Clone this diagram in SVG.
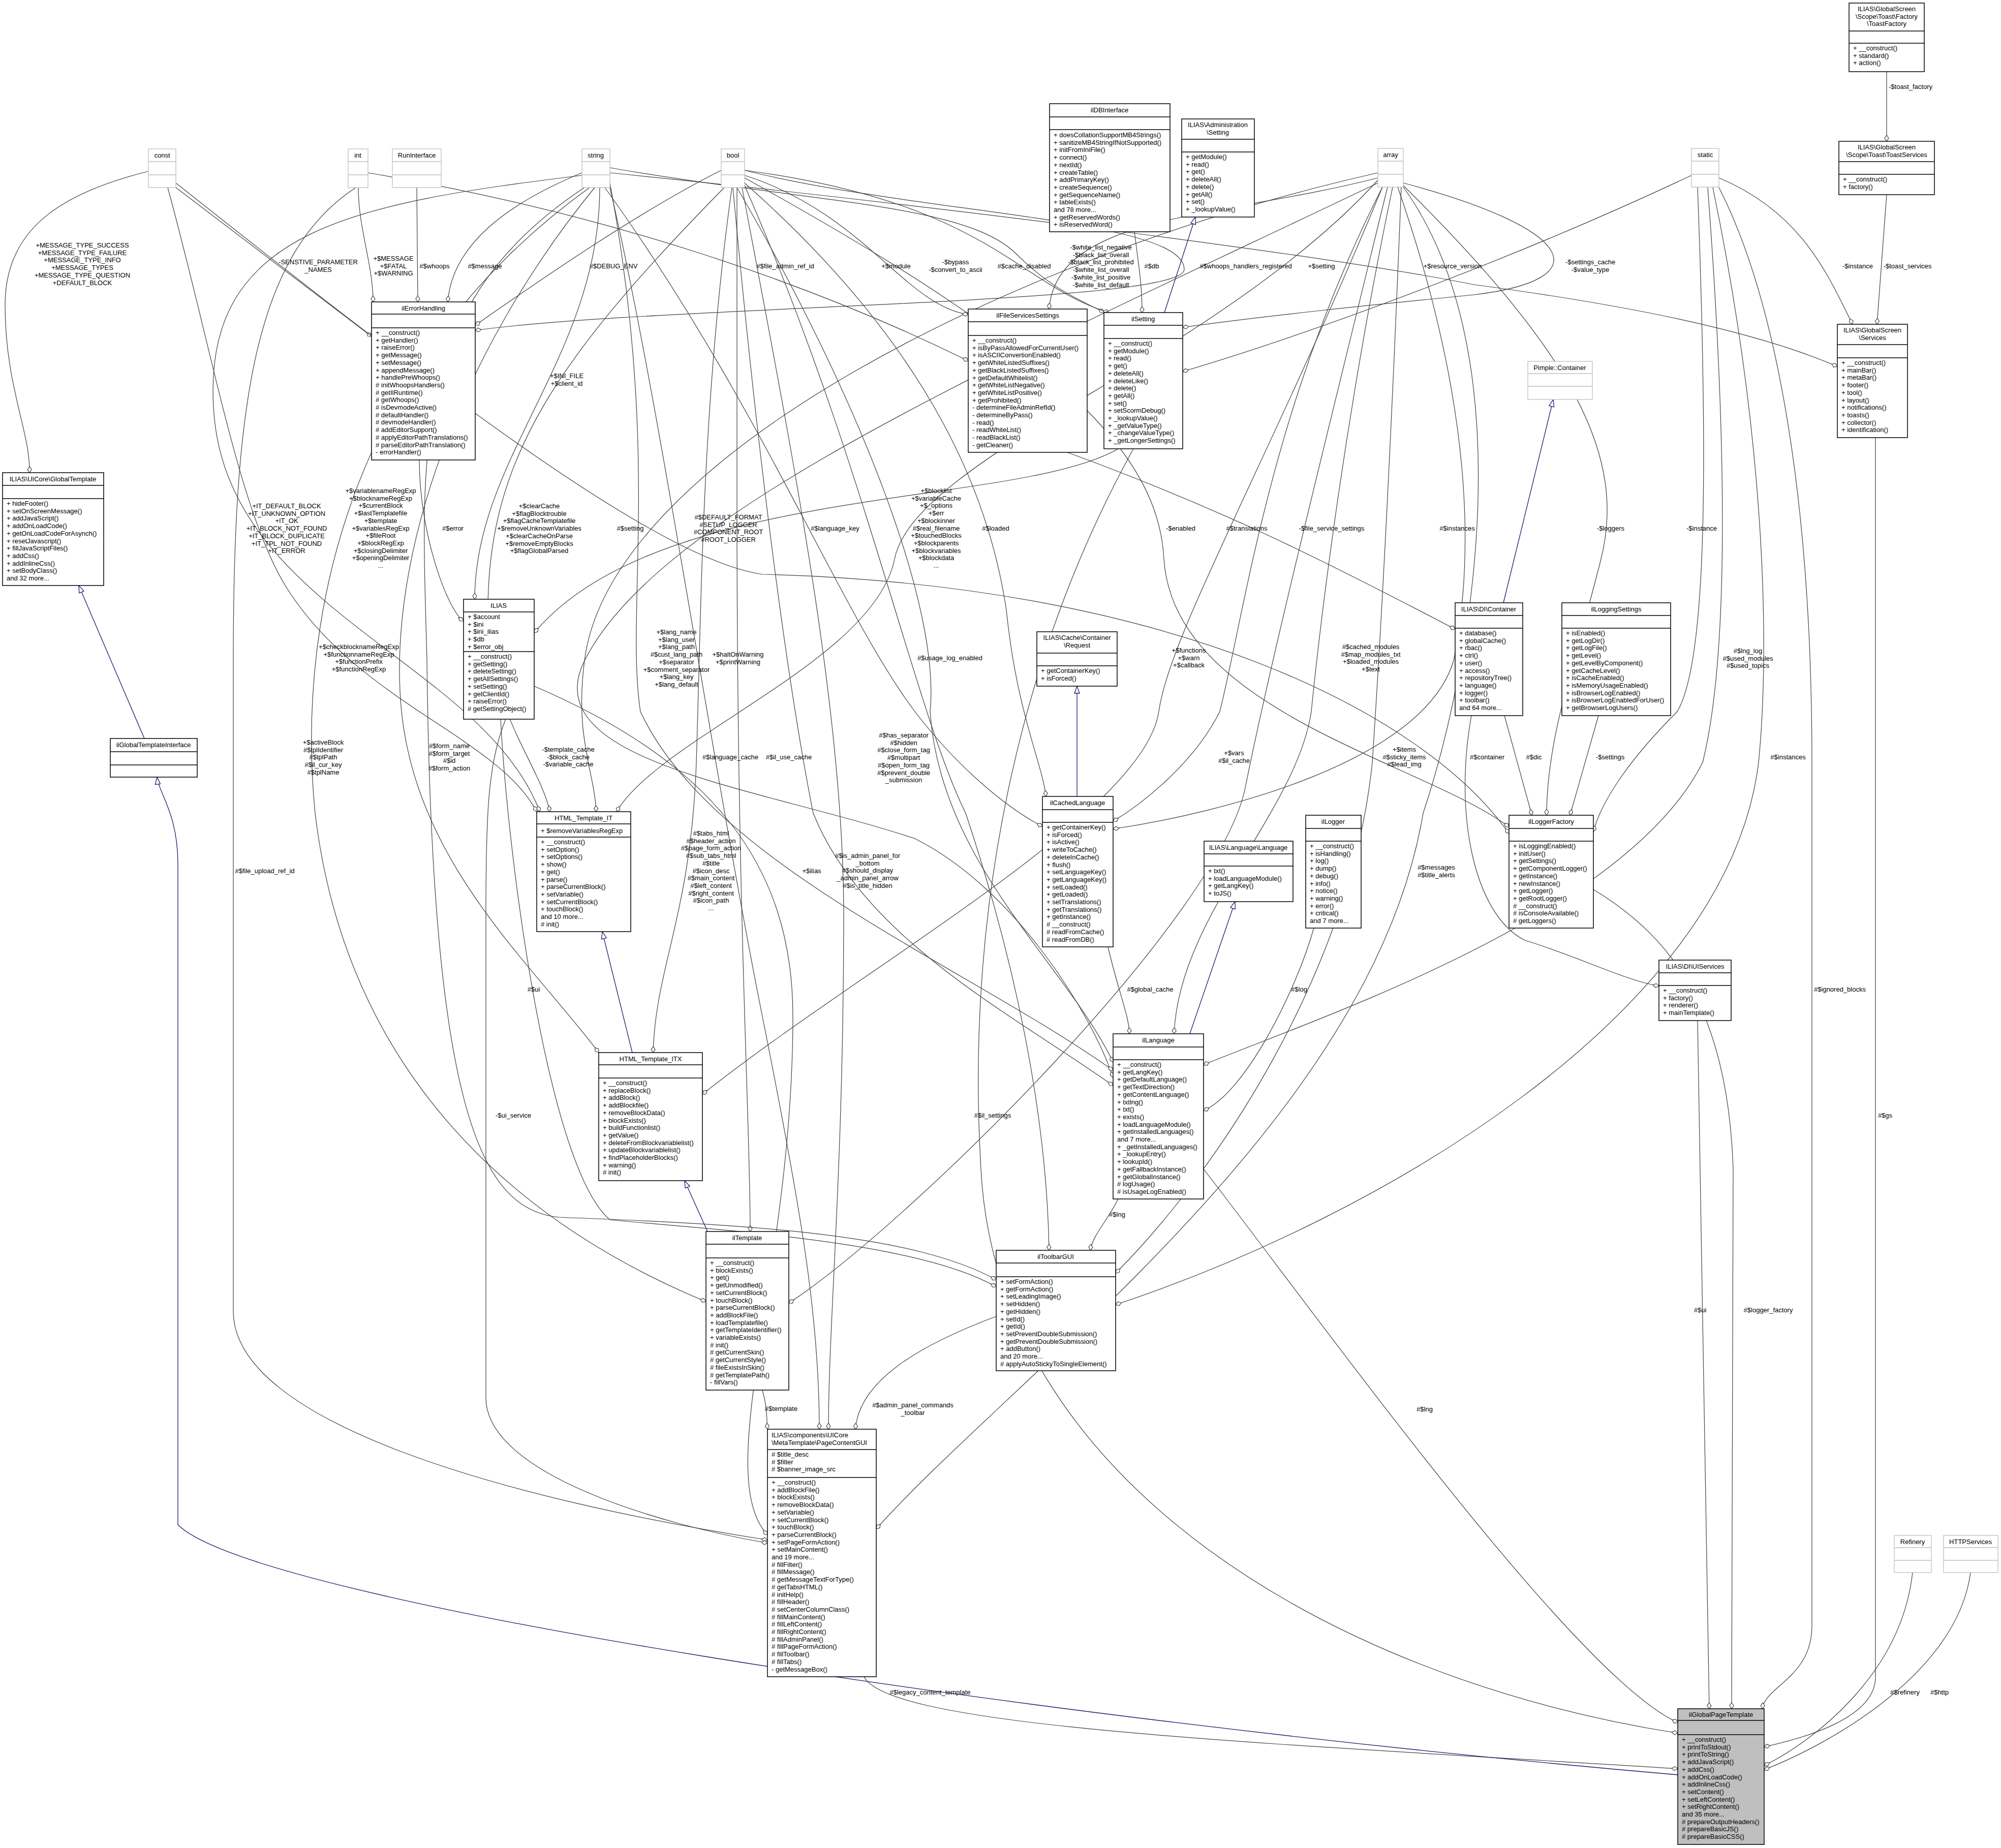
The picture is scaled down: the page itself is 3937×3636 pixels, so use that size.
<svg xmlns="http://www.w3.org/2000/svg" width="3937" height="3636" viewBox="0 0 3937 3636">
<style>
text{font-family:"Liberation Sans",Arial,sans-serif;font-size:13px;fill:#000}
.h{text-anchor:middle}
.l{text-anchor:middle}
.n rect{fill:#fff;stroke:#000;stroke-width:1.5}
.n line{stroke:#000;stroke-width:1.5}
.t rect{fill:#fff;stroke:#bfbfbf;stroke-width:1.3}
.t line{stroke:#bfbfbf;stroke-width:1.3}
.e path{fill:none;stroke:#404040;stroke-width:1.2;marker-end:url(#dia)}
.g path{fill:none;stroke:#191970;stroke-width:1.3;marker-end:url(#tri)}
</style>
<defs>
<marker id="dia" markerUnits="userSpaceOnUse" markerWidth="14" markerHeight="10" refX="13" refY="5" orient="auto"><path d="M1,5 L7,1 L13,5 L7,9 z" fill="#fff" stroke="#404040" stroke-width="1.2"/></marker>
<marker id="tri" markerUnits="userSpaceOnUse" markerWidth="16" markerHeight="12" refX="15" refY="6" orient="auto"><path d="M1,1 L15,6 L1,11 z" fill="#fff" stroke="#191970" stroke-width="1.3"/></marker>
</defs>
<rect width="3937" height="3636" fill="#fff"/>

<g id="connectors">
<g class="e">
<path d="M292,337 C120,380 10,450 10,600 C10,760 60,850 58,930"/>
<path d="M346,369 L731,662"/>
<path d="M705,369 C705,450 734,520 734,594"/>
<path d="M820,369 L822,594"/>
<path d="M1145,340 C1000,400 890,480 881,594"/>
<path d="M1419,335 C1250,420 1050,560 935,640"/>
<path d="M1465,335 C1800,420 2330,430 2330,530 C2330,600 1300,600 935,650"/>
<path d="M1180,369 C1180,700 934,900 934,1179"/>
<path d="M825,905 C825,1050 880,1200 912,1222"/>
<path d="M2200,883 C2000,1000 1300,950 1051,1245"/>
<path d="M330,369 C420,700 470,1000 560,1150 C700,1380 980,1450 1056,1597"/>
<path d="M1145,345 C700,400 400,450 420,800 C440,1200 950,1300 1062,1597"/>
<path d="M1425,369 C1100,700 960,900 960,1200 C960,1400 1060,1500 1082,1597"/>
<path d="M2711,340 C2000,500 1200,900 1150,1300 C1130,1450 1170,1520 1173,1597"/>
<path d="M2715,350 C2400,700 1800,900 1760,1100 C1720,1300 1300,1450 1213,1597"/>
<path d="M1170,369 C900,700 760,1100 790,1400 C820,1700 1050,1900 1178,2071"/>
<path d="M1440,369 C1380,800 1380,1200 1370,1500 C1360,1800 1290,1900 1285,2071"/>
<path d="M2720,368 C2500,900 2300,1250 2280,1400 C2250,1600 1700,1900 1382,2153"/>
<path d="M1160,369 C700,700 580,1200 620,1600 C680,2100 1000,2400 1389,2561"/>
<path d="M2730,368 C2600,900 2500,1300 2450,1550 C2400,1800 1800,2400 1552,2564"/>
<path d="M1450,369 L1450,1000 C1450,1800 1476,2200 1476,2423"/>
<path d="M700,369 C500,500 459,800 459,1300 L459,2580 C459,2800 1000,2950 1510,3030"/>
<path d="M995,1415 C960,1500 956,1600 956,1800 L956,2750 C956,2900 1300,3000 1510,3036"/>
<path d="M985,1415 C1000,1700 1080,2300 1200,2400 C1400,2420 1800,2440 1960,2532"/>
<path d="M1150,369 C800,600 830,900 840,1300 C850,2200 950,2380 1100,2395 C1500,2410 1800,2430 1960,2518"/>
<path d="M724,340 C1200,420 1600,560 1905,710"/>
<path d="M1200,330 C1600,400 1900,400 2000,500 C2080,580 2150,600 2172,615"/>
<path d="M1465,345 C1700,420 1780,600 1905,619"/>
<path d="M1465,335 C1950,400 2000,560 2182,615"/>
<path d="M2711,350 C2400,430 2080,420 2064,608"/>
<path d="M2232,456 C2240,520 2247,560 2247,615"/>
<path d="M2761,360 C3100,450 3150,550 2900,580 C2700,600 2500,620 2327,644"/>
<path d="M3328,345 C3000,500 2600,650 2327,731"/>
<path d="M1200,340 C1800,400 2600,500 2900,560 C3200,600 3450,650 3615,721"/>
<path d="M3382,350 C3550,420 3600,550 3645,638"/>
<path d="M3712,383 L3693,638"/>
<path d="M3712,141 L3712,278"/>
<path d="M346,360 C900,800 1300,1100 1500,1130 C2300,1150 2800,1400 2969,1640"/>
<path d="M1190,369 C1500,800 1650,1200 1800,1400 C1900,1530 2000,1600 2051,1626"/>
<path d="M1465,360 C1850,700 1950,1000 1980,1200 C2000,1400 2050,1500 2058,1567"/>
<path d="M1465,350 C2100,700 2280,900 2290,1100 C2310,1400 2800,1500 2969,1627"/>
<path d="M2720,368 C2500,800 2450,1200 2400,1400 C2350,1500 2250,1580 2190,1616"/>
<path d="M2750,368 C2900,800 2900,1100 2860,1300 C2800,1500 2400,1600 2190,1631"/>
<path d="M2100,890 C2400,1000 2600,1100 2863,1238"/>
<path d="M2761,365 C3100,700 3200,900 3150,1100 C3100,1300 3043,1450 3043,1604"/>
<path d="M3340,369 C3360,900 3360,1300 3300,1400 C3200,1500 3150,1580 3135,1636"/>
<path d="M1450,369 C1700,800 1850,1200 1830,1400 C1850,1700 2100,1900 2190,2090"/>
<path d="M1465,365 C1700,900 1800,1400 1900,1600 C2000,1900 2060,2200 2064,2460"/>
<path d="M2711,360 C2000,700 1300,1000 1150,1300 C1050,1500 1500,1550 1800,1650 C2000,1750 2150,2000 2190,2120"/>
<path d="M1442,369 C1500,1000 1560,1400 1600,1600 C1700,1850 2000,2000 2190,2136"/>
<path d="M1200,360 C1300,900 1230,1200 1260,1400 C1400,1700 1900,1900 2190,2106"/>
<path d="M2740,368 C2650,800 2600,1200 2580,1400 C2550,1600 2320,1800 2310,2034"/>
<path d="M2757,368 C2740,800 2720,1200 2700,1500 C2660,1900 2400,2300 2195,2505"/>
<path d="M2761,368 C3000,700 2900,1300 2800,1600 C2700,2200 2000,2700 1724,3008"/>
<path d="M2895,1408 C2860,1600 2900,1800 3000,1850 C3100,1880 3200,1930 3264,1940"/>
<path d="M2960,1408 L3014,1604"/>
<path d="M3145,1408 L3089,1604"/>
<path d="M3360,369 C3400,900 3400,1300 3350,1500 C3200,1800 2600,2000 2368,2095"/>
<path d="M3370,369 C3480,900 3480,1300 3460,1500 C3400,2000 2700,2400 2195,2567"/>
<path d="M3382,369 C3500,600 3565,1000 3565,1500 L3565,3200 C3565,3300 3470,3320 3468,3362"/>
<path d="M3690,861 L3690,3300 C3690,3380 3550,3420 3471,3437"/>
<path d="M3340,2008 L3363,3362"/>
<path d="M3135,1750 C3300,1850 3400,2000 3410,2300 L3407,3362"/>
<path d="M2585,1826 C2550,1950 2450,2150 2368,2185"/>
<path d="M2180,1863 C2200,1950 2222,2000 2222,2034"/>
<path d="M2200,2359 C2180,2400 2150,2430 2145,2460"/>
<path d="M2368,2300 C2600,2600 3100,3300 3301,3389"/>
<path d="M2230,883 C2000,1300 1900,1800 1930,2300 C1960,2900 2600,3300 3301,3410"/>
<path d="M1500,2735 C1510,2770 1508,2790 1510,2812"/>
<path d="M1960,2590 C1800,2650 1690,2720 1683,2812"/>
<path d="M1200,369 C1300,800 1400,1500 1500,2000 C1580,2400 1612,2600 1612,2812"/>
<path d="M1460,369 C1560,900 1660,1400 1660,1800 C1660,2300 1630,2600 1630,2812"/>
<path d="M1051,1350 C1400,1500 1560,1700 1560,2000 C1560,2500 1400,2900 1510,3020"/>
<path d="M1700,3299 C1750,3400 2500,3430 3301,3480"/>
<path d="M3763,3094 C3740,3300 3560,3430 3471,3474"/>
<path d="M3877,3094 C3850,3300 3580,3440 3471,3482"/>
</g>
<g class="g">
<path d="M284,1453 L155,1152"/>
<path d="M3301,3492 C2000,3380 500,3150 350,3000 L350,1700 C350,1600 312,1560 309,1529"/>
<path d="M2291,615 L2352,427"/>
<path d="M2958,1186 L3056,786"/>
<path d="M2119,1567 L2119,1350"/>
<path d="M2341,2034 L2430,1774"/>
<path d="M1244,2071 L1185,1833"/>
<path d="M1392,2423 L1347,2323"/>
</g>
<g id="labels">
<text class="l" x="162" y="487">+MESSAGE_TYPE_SUCCESS<tspan x="162" dy="14.7">+MESSAGE_TYPE_FAILURE</tspan><tspan x="162" dy="14.7">+MESSAGE_TYPE_INFO</tspan><tspan x="162" dy="14.7">+MESSAGE_TYPES</tspan><tspan x="162" dy="14.7">+MESSAGE_TYPE_QUESTION</tspan><tspan x="162" dy="14.7">+DEFAULT_BLOCK</tspan></text>
<text class="l" x="626" y="520">-SENSTIVE_PARAMETER<tspan x="626" dy="14.7">_NAMES</tspan></text>
<text class="l" x="774" y="513">+$MESSAGE<tspan x="774" dy="14.7">+$FATAL</tspan><tspan x="774" dy="14.7">+$WARNING</tspan></text>
<text class="l" x="855" y="528">#$whoops</text>
<text class="l" x="954" y="528">#$message</text>
<text class="l" x="1207" y="528">#$DEBUG_ENV</text>
<text class="l" x="2451" y="528">#$whoops_handlers_registered</text>
<text class="l" x="1115" y="744">+$INI_FILE<tspan x="1115" dy="14.7">+$client_id</tspan></text>
<text class="l" x="891" y="1044">#$error</text>
<text class="l" x="1240" y="1044">#$setting</text>
<text class="l" x="564" y="1000">+IT_DEFAULT_BLOCK<tspan x="564" dy="14.7">+IT_UNKNOWN_OPTION</tspan><tspan x="564" dy="14.7">+IT_OK</tspan><tspan x="564" dy="14.7">+IT_BLOCK_NOT_FOUND</tspan><tspan x="564" dy="14.7">+IT_BLOCK_DUPLICATE</tspan><tspan x="564" dy="14.7">+IT_TPL_NOT_FOUND</tspan><tspan x="564" dy="14.7">+IT_ERROR</tspan></text>
<text class="l" x="749" y="970">+$variablenameRegExp<tspan x="749" dy="14.7">+$blocknameRegExp</tspan><tspan x="749" dy="14.7">+$currentBlock</tspan><tspan x="749" dy="14.7">+$lastTemplatefile</tspan><tspan x="749" dy="14.7">+$template</tspan><tspan x="749" dy="14.7">+$variablesRegExp</tspan><tspan x="749" dy="14.7">+$fileRoot</tspan><tspan x="749" dy="14.7">+$blockRegExp</tspan><tspan x="749" dy="14.7">+$closingDelimiter</tspan><tspan x="749" dy="14.7">+$openingDelimiter</tspan><tspan x="749" dy="14.7">...</tspan></text>
<text class="l" x="1061" y="1000">+$clearCache<tspan x="1061" dy="14.7">+$flagBlocktrouble</tspan><tspan x="1061" dy="14.7">+$flagCacheTemplatefile</tspan><tspan x="1061" dy="14.7">+$removeUnknownVariables</tspan><tspan x="1061" dy="14.7">+$clearCacheOnParse</tspan><tspan x="1061" dy="14.7">+$removeEmptyBlocks</tspan><tspan x="1061" dy="14.7">+$flagGlobalParsed</tspan></text>
<text class="l" x="706" y="1277">+$checkblocknameRegExp<tspan x="706" dy="14.7">+$functionnameRegExp</tspan><tspan x="706" dy="14.7">+$functionPrefix</tspan><tspan x="706" dy="14.7">+$functionRegExp</tspan></text>
<text class="l" x="636" y="1465">+$activeBlock<tspan x="636" dy="14.7">#$tplIdentifier</tspan><tspan x="636" dy="14.7">#$tplPath</tspan><tspan x="636" dy="14.7">#$il_cur_key</tspan><tspan x="636" dy="14.7">#$tplName</tspan></text>
<text class="l" x="884" y="1472">#$form_name<tspan x="884" dy="14.7">#$form_target</tspan><tspan x="884" dy="14.7">#$id</tspan><tspan x="884" dy="14.7">#$form_action</tspan></text>
<text class="l" x="1118" y="1479">-$template_cache<tspan x="1118" dy="14.7">-$block_cache</tspan><tspan x="1118" dy="14.7">-$variable_cache</tspan></text>
<text class="l" x="1331" y="1248">+$lang_name<tspan x="1331" dy="14.7">+$lang_user</tspan><tspan x="1331" dy="14.7">+$lang_path</tspan><tspan x="1331" dy="14.7">#$cust_lang_path</tspan><tspan x="1331" dy="14.7">+$separator</tspan><tspan x="1331" dy="14.7">+$comment_separator</tspan><tspan x="1331" dy="14.7">+$lang_key</tspan><tspan x="1331" dy="14.7">+$lang_default</tspan></text>
<text class="l" x="1437" y="1494">#$language_cache</text>
<text class="l" x="1552" y="1494">#$il_use_cache</text>
<text class="l" x="1545" y="528">#$file_admin_ref_id</text>
<text class="l" x="1763" y="528">+$module</text>
<text class="l" x="1880" y="520">-$bypass<tspan x="1880" dy="14.7">-$convert_to_ascii</tspan></text>
<text class="l" x="2015" y="528">#$cache_disabled</text>
<text class="l" x="2166" y="491">-$white_list_negative<tspan x="2166" dy="14.7">-$black_list_overall</tspan><tspan x="2166" dy="14.7">-$black_list_prohibited</tspan><tspan x="2166" dy="14.7">-$white_list_overall</tspan><tspan x="2166" dy="14.7">-$white_list_positive</tspan><tspan x="2166" dy="14.7">-$white_list_default</tspan></text>
<text class="l" x="2266" y="528">#$db</text>
<text class="l" x="2600" y="528">+$setting</text>
<text class="l" x="2858" y="528">+$resource_version</text>
<text class="l" x="3129" y="520">-$settings_cache<tspan x="3129" dy="14.7">-$value_type</tspan></text>
<text class="l" x="3655" y="528">-$instance</text>
<text class="l" x="3753" y="528">-$toast_services</text>
<text class="l" x="3759" y="175">-$toast_factory</text>
<text class="l" x="1433" y="1022">#$DEFAULT_FORMAT<tspan x="1433" dy="14.7">#SETUP_LOGGER</tspan><tspan x="1433" dy="14.7">#COMPONENT_ROOT</tspan><tspan x="1433" dy="14.7">#ROOT_LOGGER</tspan></text>
<text class="l" x="1643" y="1044">#$language_key</text>
<text class="l" x="1842" y="970">+$blocklist<tspan x="1842" dy="14.7">+$variableCache</tspan><tspan x="1842" dy="14.7">+$_options</tspan><tspan x="1842" dy="14.7">+$err</tspan><tspan x="1842" dy="14.7">+$blockinner</tspan><tspan x="1842" dy="14.7">#$real_filename</tspan><tspan x="1842" dy="14.7">+$touchedBlocks</tspan><tspan x="1842" dy="14.7">+$blockparents</tspan><tspan x="1842" dy="14.7">+$blockvariables</tspan><tspan x="1842" dy="14.7">+$blockdata</tspan><tspan x="1842" dy="14.7">...</tspan></text>
<text class="l" x="1959" y="1044">#$loaded</text>
<text class="l" x="2323" y="1044">-$enabled</text>
<text class="l" x="2453" y="1044">#$translations</text>
<text class="l" x="2620" y="1044">-$file_service_settings</text>
<text class="l" x="2867" y="1044">#$instances</text>
<text class="l" x="3169" y="1044">-$loggers</text>
<text class="l" x="3348" y="1044">-$instance</text>
<text class="l" x="1452" y="1292">+$haltOnWarning<tspan x="1452" dy="14.7">+$printWarning</tspan></text>
<text class="l" x="1869" y="1299">#$usage_log_enabled</text>
<text class="l" x="2339" y="1284">+$functions<tspan x="2339" dy="14.7">+$warn</tspan><tspan x="2339" dy="14.7">+$callback</tspan></text>
<text class="l" x="1778" y="1451">#$has_separator<tspan x="1778" dy="14.7">#$hidden</tspan><tspan x="1778" dy="14.7">#$close_form_tag</tspan><tspan x="1778" dy="14.7">#$multipart</tspan><tspan x="1778" dy="14.7">#$open_form_tag</tspan><tspan x="1778" dy="14.7">#$prevent_double</tspan><tspan x="1778" dy="14.7">_submission</tspan></text>
<text class="l" x="2428" y="1486">+$vars<tspan x="2428" dy="14.7">#$il_cache</tspan></text>
<text class="l" x="2697" y="1277">#$cached_modules<tspan x="2697" dy="14.7">#$map_modules_txt</tspan><tspan x="2697" dy="14.7">+$loaded_modules</tspan><tspan x="2697" dy="14.7">+$text</tspan></text>
<text class="l" x="2763" y="1479">+$items<tspan x="2763" dy="14.7">#$sticky_items</tspan><tspan x="2763" dy="14.7">#$lead_img</tspan></text>
<text class="l" x="2926" y="1494">#$container</text>
<text class="l" x="3018" y="1494">#$dic</text>
<text class="l" x="3168" y="1494">-$settings</text>
<text class="l" x="3439" y="1285">#$lng_log<tspan x="3439" dy="14.7">#$used_modules</tspan><tspan x="3439" dy="14.7">#$used_topics</tspan></text>
<text class="l" x="3518" y="1494">#$instances</text>
<text class="l" x="2826" y="1711">#$messages<tspan x="2826" dy="14.7">#$title_alerts</tspan></text>
<text class="l" x="2556" y="1951">#$log</text>
<text class="l" x="3620" y="1951">#$ignored_blocks</text>
<text class="l" x="3709" y="2199">#$gs</text>
<text class="l" x="3345" y="2582">#$ui</text>
<text class="l" x="3479" y="2582">#$logger_factory</text>
<text class="l" x="1399" y="1644">#$tabs_html<tspan x="1399" dy="14.7">#$header_action</tspan><tspan x="1399" dy="14.7">#$page_form_action</tspan><tspan x="1399" dy="14.7">#$sub_tabs_html</tspan><tspan x="1399" dy="14.7">#$title</tspan><tspan x="1399" dy="14.7">#$icon_desc</tspan><tspan x="1399" dy="14.7">#$main_content</tspan><tspan x="1399" dy="14.7">#$left_content</tspan><tspan x="1399" dy="14.7">#$right_content</tspan><tspan x="1399" dy="14.7">#$icon_path</tspan><tspan x="1399" dy="14.7">...</tspan></text>
<text class="l" x="1597" y="1718">+$ilias</text>
<text class="l" x="1707" y="1688">#$is_admin_panel_for<tspan x="1707" dy="14.7">_bottom</tspan><tspan x="1707" dy="14.7">#$should_display</tspan><tspan x="1707" dy="14.7">_admin_panel_arrow</tspan><tspan x="1707" dy="14.7">#$is_title_hidden</tspan></text>
<text class="l" x="2263" y="1951">#$global_cache</text>
<text class="l" x="1953" y="2199">#$il_settings</text>
<text class="l" x="2198" y="2394">#$lng</text>
<text class="l" x="1537" y="2776">#$template</text>
<text class="l" x="1796" y="2769">#$admin_panel_commands<tspan x="1796" dy="14.7">_toolbar</tspan></text>
<text class="l" x="2803" y="2777">#$lng</text>
<text class="l" x="1830" y="3334">#$legacy_content_template</text>
<text class="l" x="3748" y="3334">#$refinery</text>
<text class="l" x="3816" y="3334">#$http</text>
<text class="l" x="521" y="1718">#$file_upload_ref_id</text>
<text class="l" x="1010" y="2199">-$ui_service</text>
<text class="l" x="1050" y="1951">#$ui</text>
</g>
</g>

<!-- type nodes -->
<g id="n_const" class="t"><rect x="292" y="293" width="54" height="76"/><line x1="292" y1="318" x2="346" y2="318"/><line x1="292" y1="344" x2="346" y2="344"/><text class="h" x="319" y="310">const</text></g>
<g id="n_int" class="t"><rect x="685" y="293" width="39" height="76"/><line x1="685" y1="318" x2="724" y2="318"/><line x1="685" y1="344" x2="724" y2="344"/><text class="h" x="704" y="310">int</text></g>
<g id="n_run" class="t"><rect x="772" y="293" width="96" height="76"/><line x1="772" y1="318" x2="868" y2="318"/><line x1="772" y1="344" x2="868" y2="344"/><text class="h" x="820" y="310">RunInterface</text></g>
<g id="n_string" class="t"><rect x="1145" y="293" width="55" height="76"/><line x1="1145" y1="318" x2="1200" y2="318"/><line x1="1145" y1="344" x2="1200" y2="344"/><text class="h" x="1172" y="310">string</text></g>
<g id="n_bool" class="t"><rect x="1419" y="293" width="46" height="76"/><line x1="1419" y1="318" x2="1465" y2="318"/><line x1="1419" y1="344" x2="1465" y2="344"/><text class="h" x="1442" y="310">bool</text></g>
<g id="n_array" class="t"><rect x="2711" y="292" width="50" height="76"/><line x1="2711" y1="317" x2="2761" y2="317"/><line x1="2711" y1="343" x2="2761" y2="343"/><text class="h" x="2736" y="309">array</text></g>
<g id="n_static" class="t"><rect x="3328" y="292" width="54" height="76"/><line x1="3328" y1="317" x2="3382" y2="317"/><line x1="3328" y1="343" x2="3382" y2="343"/><text class="h" x="3355" y="309">static</text></g>
<g id="n_pimple" class="t"><rect x="3006" y="711" width="127" height="75"/><line x1="3006" y1="735" x2="3133" y2="735"/><line x1="3006" y1="760" x2="3133" y2="760"/><text class="h" x="3069" y="728">Pimple::Container</text></g>
<g id="n_refinery" class="t"><rect x="3727" y="3021" width="73" height="73"/><line x1="3727" y1="3045" x2="3800" y2="3045"/><line x1="3727" y1="3070" x2="3800" y2="3070"/><text class="h" x="3763" y="3038">Refinery</text></g>
<g id="n_http" class="t"><rect x="3824" y="3021" width="107" height="73"/><line x1="3824" y1="3045" x2="3931" y2="3045"/><line x1="3824" y1="3070" x2="3931" y2="3070"/><text class="h" x="3877" y="3038">HTTPServices</text></g>

<!-- class nodes -->
<g id="n_toastfactory" class="n"><rect x="3638" y="6" width="148" height="135"/><line x1="3638" y1="61" x2="3786" y2="61"/><line x1="3638" y1="85" x2="3786" y2="85"/>
<text class="h" x="3712" y="22">ILIAS\GlobalScreen<tspan x="3712" dy="14.7">\Scope\Toast\Factory</tspan><tspan x="3712" dy="14.7">\ToastFactory</tspan></text>
<text x="3646" y="99">+ __construct()<tspan x="3646" dy="14.7">+ standard()</tspan><tspan x="3646" dy="14.7">+ action()</tspan></text></g>

<g id="n_toastservices" class="n"><rect x="3618" y="278" width="188" height="105"/><line x1="3618" y1="318" x2="3806" y2="318"/><line x1="3618" y1="343" x2="3806" y2="343"/>
<text class="h" x="3712" y="294">ILIAS\GlobalScreen<tspan x="3712" dy="14.7">\Scope\Toast\ToastServices</tspan></text>
<text x="3626" y="357">+ __construct()<tspan x="3626" dy="14.7">+ factory()</tspan></text></g>

<g id="n_services" class="n"><rect x="3615" y="638" width="138" height="223"/><line x1="3615" y1="678" x2="3753" y2="678"/><line x1="3615" y1="704" x2="3753" y2="704"/>
<text class="h" x="3684" y="654">ILIAS\GlobalScreen<tspan x="3684" dy="14.7">\Services</tspan></text>
<text x="3623" y="718">+ __construct()<tspan x="3623" dy="14.7">+ mainBar()</tspan><tspan x="3623" dy="14.7">+ metaBar()</tspan><tspan x="3623" dy="14.7">+ footer()</tspan><tspan x="3623" dy="14.7">+ tool()</tspan><tspan x="3623" dy="14.7">+ layout()</tspan><tspan x="3623" dy="14.7">+ notifications()</tspan><tspan x="3623" dy="14.7">+ toasts()</tspan><tspan x="3623" dy="14.7">+ collector()</tspan><tspan x="3623" dy="14.7">+ identification()</tspan></text></g>

<g id="n_dbinterface" class="n"><rect x="2065" y="204" width="237" height="252"/><line x1="2065" y1="230" x2="2302" y2="230"/><line x1="2065" y1="255" x2="2302" y2="255"/>
<text class="h" x="2183" y="221">ilDBInterface</text>
<text x="2073" y="270">+ doesCollationSupportMB4Strings()<tspan x="2073" dy="14.7">+ sanitizeMB4StringIfNotSupported()</tspan><tspan x="2073" dy="14.7">+ initFromIniFile()</tspan><tspan x="2073" dy="14.7">+ connect()</tspan><tspan x="2073" dy="14.7">+ nextId()</tspan><tspan x="2073" dy="14.7">+ createTable()</tspan><tspan x="2073" dy="14.7">+ addPrimaryKey()</tspan><tspan x="2073" dy="14.7">+ createSequence()</tspan><tspan x="2073" dy="14.7">+ getSequenceName()</tspan><tspan x="2073" dy="14.7">+ tableExists()</tspan><tspan x="2073" dy="14.7">and 78 more...</tspan><tspan x="2073" dy="14.7">+ getReservedWords()</tspan><tspan x="2073" dy="14.7">+ isReservedWord()</tspan></text></g>

<g id="n_adminsetting" class="n"><rect x="2325" y="234" width="143" height="193"/><line x1="2325" y1="274" x2="2468" y2="274"/><line x1="2325" y1="299" x2="2468" y2="299"/>
<text class="h" x="2396" y="250">ILIAS\Administration<tspan x="2396" dy="14.7">\Setting</tspan></text>
<text x="2333" y="313">+ getModule()<tspan x="2333" dy="14.7">+ read()</tspan><tspan x="2333" dy="14.7">+ get()</tspan><tspan x="2333" dy="14.7">+ deleteAll()</tspan><tspan x="2333" dy="14.7">+ delete()</tspan><tspan x="2333" dy="14.7">+ getAll()</tspan><tspan x="2333" dy="14.7">+ set()</tspan><tspan x="2333" dy="14.7">+ _lookupValue()</tspan></text></g>

<g id="n_errorhandling" class="n"><rect x="731" y="594" width="204" height="311"/><line x1="731" y1="618" x2="935" y2="618"/><line x1="731" y1="645" x2="935" y2="645"/>
<text class="h" x="833" y="611">ilErrorHandling</text>
<text x="739" y="659">+ __construct()<tspan x="739" dy="14.7">+ getHandler()</tspan><tspan x="739" dy="14.7">+ raiseError()</tspan><tspan x="739" dy="14.7">+ getMessage()</tspan><tspan x="739" dy="14.7">+ setMessage()</tspan><tspan x="739" dy="14.7">+ appendMessage()</tspan><tspan x="739" dy="14.7">+ handlePreWhoops()</tspan><tspan x="739" dy="14.7"># initWhoopsHandlers()</tspan><tspan x="739" dy="14.7"># getIlRuntime()</tspan><tspan x="739" dy="14.7"># getWhoops()</tspan><tspan x="739" dy="14.7"># isDevmodeActive()</tspan><tspan x="739" dy="14.7"># defaultHandler()</tspan><tspan x="739" dy="14.7"># devmodeHandler()</tspan><tspan x="739" dy="14.7"># addEditorSupport()</tspan><tspan x="739" dy="14.7"># applyEditorPathTranslations()</tspan><tspan x="739" dy="14.7"># parseEditorPathTranslation()</tspan><tspan x="739" dy="14.7">- errorHandler()</tspan></text></g>

<g id="n_globaltemplate" class="n"><rect x="5" y="930" width="199" height="222"/><line x1="5" y1="955" x2="204" y2="955"/><line x1="5" y1="981" x2="204" y2="981"/>
<text class="h" x="104" y="947">ILIAS\UICore\GlobalTemplate</text>
<text x="13" y="995">+ hideFooter()<tspan x="13" dy="14.7">+ setOnScreenMessage()</tspan><tspan x="13" dy="14.7">+ addJavaScript()</tspan><tspan x="13" dy="14.7">+ addOnLoadCode()</tspan><tspan x="13" dy="14.7">+ getOnLoadCodeForAsynch()</tspan><tspan x="13" dy="14.7">+ resetJavascript()</tspan><tspan x="13" dy="14.7">+ fillJavaScriptFiles()</tspan><tspan x="13" dy="14.7">+ addCss()</tspan><tspan x="13" dy="14.7">+ addInlineCss()</tspan><tspan x="13" dy="14.7">+ setBodyClass()</tspan><tspan x="13" dy="14.7">and 32 more...</tspan></text></g>

<g id="n_gtinterface" class="n"><rect x="217" y="1453" width="171" height="76"/><line x1="217" y1="1479" x2="388" y2="1479"/><line x1="217" y1="1505" x2="388" y2="1505"/>
<text class="h" x="302" y="1470">ilGlobalTemplateInterface</text></g>

<g id="n_fileservices" class="n"><rect x="1905" y="608" width="234" height="282"/><line x1="1905" y1="633" x2="2139" y2="633"/><line x1="1905" y1="660" x2="2139" y2="660"/>
<text class="h" x="2022" y="625">ilFileServicesSettings</text>
<text x="1913" y="674">+ __construct()<tspan x="1913" dy="14.7">+ isByPassAllowedForCurrentUser()</tspan><tspan x="1913" dy="14.7">+ isASCIIConvertionEnabled()</tspan><tspan x="1913" dy="14.7">+ getWhiteListedSuffixes()</tspan><tspan x="1913" dy="14.7">+ getBlackListedSuffixes()</tspan><tspan x="1913" dy="14.7">+ getDefaultWhitelist()</tspan><tspan x="1913" dy="14.7">+ getWhiteListNegative()</tspan><tspan x="1913" dy="14.7">+ getWhiteListPositive()</tspan><tspan x="1913" dy="14.7">+ getProhibited()</tspan><tspan x="1913" dy="14.7">- determineFileAdminRefId()</tspan><tspan x="1913" dy="14.7">- determineByPass()</tspan><tspan x="1913" dy="14.7">- read()</tspan><tspan x="1913" dy="14.7">- readWhiteList()</tspan><tspan x="1913" dy="14.7">- readBlackList()</tspan><tspan x="1913" dy="14.7">- getCleaner()</tspan></text></g>

<g id="n_ilsetting" class="n"><rect x="2172" y="615" width="155" height="268"/><line x1="2172" y1="640" x2="2327" y2="640"/><line x1="2172" y1="666" x2="2327" y2="666"/>
<text class="h" x="2249" y="632">ilSetting</text>
<text x="2180" y="680">+ __construct()<tspan x="2180" dy="14.7">+ getModule()</tspan><tspan x="2180" dy="14.7">+ read()</tspan><tspan x="2180" dy="14.7">+ get()</tspan><tspan x="2180" dy="14.7">+ deleteAll()</tspan><tspan x="2180" dy="14.7">+ deleteLike()</tspan><tspan x="2180" dy="14.7">+ delete()</tspan><tspan x="2180" dy="14.7">+ getAll()</tspan><tspan x="2180" dy="14.7">+ set()</tspan><tspan x="2180" dy="14.7">+ setScormDebug()</tspan><tspan x="2180" dy="14.7">+ _lookupValue()</tspan><tspan x="2180" dy="14.7">+ _getValueType()</tspan><tspan x="2180" dy="14.7">+ _changeValueType()</tspan><tspan x="2180" dy="14.7">+ _getLongerSettings()</tspan></text></g>

<g id="n_ilias" class="n"><rect x="912" y="1179" width="139" height="236"/><line x1="912" y1="1204" x2="1051" y2="1204"/><line x1="912" y1="1282" x2="1051" y2="1282"/>
<text class="h" x="981" y="1196">ILIAS</text>
<text x="920" y="1218">+ $account<tspan x="920" dy="14.7">+ $ini</tspan><tspan x="920" dy="14.7">+ $ini_ilias</tspan><tspan x="920" dy="14.7">+ $db</tspan><tspan x="920" dy="14.7">+ $error_obj</tspan></text>
<text x="920" y="1296">+ __construct()<tspan x="920" dy="14.7">+ getSetting()</tspan><tspan x="920" dy="14.7">+ deleteSetting()</tspan><tspan x="920" dy="14.7">+ getAllSettings()</tspan><tspan x="920" dy="14.7">+ setSetting()</tspan><tspan x="920" dy="14.7">+ getClientId()</tspan><tspan x="920" dy="14.7">+ raiseError()</tspan><tspan x="920" dy="14.7"># getSettingObject()</tspan></text></g>

<g id="n_request" class="n"><rect x="2040" y="1243" width="158" height="107"/><line x1="2040" y1="1285" x2="2198" y2="1285"/><line x1="2040" y1="1310" x2="2198" y2="1310"/>
<text class="h" x="2119" y="1259">ILIAS\Cache\Container<tspan x="2119" dy="14.7">\Request</tspan></text>
<text x="2048" y="1324">+ getContainerKey()<tspan x="2048" dy="14.7">+ isForced()</tspan></text></g>

<g id="n_dicontainer" class="n"><rect x="2863" y="1186" width="133" height="222"/><line x1="2863" y1="1211" x2="2996" y2="1211"/><line x1="2863" y1="1236" x2="2996" y2="1236"/>
<text class="h" x="2929" y="1203">ILIAS\DI\Container</text>
<text x="2871" y="1250">+ database()<tspan x="2871" dy="14.7">+ globalCache()</tspan><tspan x="2871" dy="14.7">+ rbac()</tspan><tspan x="2871" dy="14.7">+ ctrl()</tspan><tspan x="2871" dy="14.7">+ user()</tspan><tspan x="2871" dy="14.7">+ access()</tspan><tspan x="2871" dy="14.7">+ repositoryTree()</tspan><tspan x="2871" dy="14.7">+ language()</tspan><tspan x="2871" dy="14.7">+ logger()</tspan><tspan x="2871" dy="14.7">+ toolbar()</tspan><tspan x="2871" dy="14.7">and 64 more...</tspan></text></g>

<g id="n_loggingsettings" class="n"><rect x="3073" y="1186" width="214" height="222"/><line x1="3073" y1="1211" x2="3287" y2="1211"/><line x1="3073" y1="1236" x2="3287" y2="1236"/>
<text class="h" x="3180" y="1203">ilLoggingSettings</text>
<text x="3081" y="1250">+ isEnabled()<tspan x="3081" dy="14.7">+ getLogDir()</tspan><tspan x="3081" dy="14.7">+ getLogFile()</tspan><tspan x="3081" dy="14.7">+ getLevel()</tspan><tspan x="3081" dy="14.7">+ getLevelByComponent()</tspan><tspan x="3081" dy="14.7">+ getCacheLevel()</tspan><tspan x="3081" dy="14.7">+ isCacheEnabled()</tspan><tspan x="3081" dy="14.7">+ isMemoryUsageEnabled()</tspan><tspan x="3081" dy="14.7">+ isBrowserLogEnabled()</tspan><tspan x="3081" dy="14.7">+ isBrowserLogEnabledForUser()</tspan><tspan x="3081" dy="14.7">+ getBrowserLogUsers()</tspan></text></g>

<g id="n_htmlit" class="n"><rect x="1056" y="1597" width="185" height="236"/><line x1="1056" y1="1621" x2="1241" y2="1621"/><line x1="1056" y1="1647" x2="1241" y2="1647"/>
<text class="h" x="1148" y="1614">HTML_Template_IT</text>
<text x="1064" y="1639">+ $removeVariablesRegExp</text>
<text x="1064" y="1661">+ __construct()<tspan x="1064" dy="14.7">+ setOption()</tspan><tspan x="1064" dy="14.7">+ setOptions()</tspan><tspan x="1064" dy="14.7">+ show()</tspan><tspan x="1064" dy="14.7">+ get()</tspan><tspan x="1064" dy="14.7">+ parse()</tspan><tspan x="1064" dy="14.7">+ parseCurrentBlock()</tspan><tspan x="1064" dy="14.7">+ setVariable()</tspan><tspan x="1064" dy="14.7">+ setCurrentBlock()</tspan><tspan x="1064" dy="14.7">+ touchBlock()</tspan><tspan x="1064" dy="14.7">and 10 more...</tspan><tspan x="1064" dy="14.7"># init()</tspan></text></g>

<g id="n_cachedlanguage" class="n"><rect x="2051" y="1567" width="139" height="296"/><line x1="2051" y1="1593" x2="2190" y2="1593"/><line x1="2051" y1="1618" x2="2190" y2="1618"/>
<text class="h" x="2120" y="1584">ilCachedLanguage</text>
<text x="2059" y="1632">+ getContainerKey()<tspan x="2059" dy="14.7">+ isForced()</tspan><tspan x="2059" dy="14.7">+ isActive()</tspan><tspan x="2059" dy="14.7">+ writeToCache()</tspan><tspan x="2059" dy="14.7">+ deleteInCache()</tspan><tspan x="2059" dy="14.7">+ flush()</tspan><tspan x="2059" dy="14.7">+ setLanguageKey()</tspan><tspan x="2059" dy="14.7">+ getLanguageKey()</tspan><tspan x="2059" dy="14.7">+ setLoaded()</tspan><tspan x="2059" dy="14.7">+ getLoaded()</tspan><tspan x="2059" dy="14.7">+ setTranslations()</tspan><tspan x="2059" dy="14.7">+ getTranslations()</tspan><tspan x="2059" dy="14.7">+ getInstance()</tspan><tspan x="2059" dy="14.7"># __construct()</tspan><tspan x="2059" dy="14.7"># readFromCache()</tspan><tspan x="2059" dy="14.7"># readFromDB()</tspan></text></g>

<g id="n_langlanguage" class="n"><rect x="2369" y="1655" width="175" height="119"/><line x1="2369" y1="1680" x2="2544" y2="1680"/><line x1="2369" y1="1704" x2="2544" y2="1704"/>
<text class="h" x="2456" y="1672">ILIAS\Language\Language</text>
<text x="2377" y="1718">+ txt()<tspan x="2377" dy="14.7">+ loadLanguageModule()</tspan><tspan x="2377" dy="14.7">+ getLangKey()</tspan><tspan x="2377" dy="14.7">+ toJS()</tspan></text></g>

<g id="n_illogger" class="n"><rect x="2569" y="1604" width="109" height="222"/><line x1="2569" y1="1630" x2="2678" y2="1630"/><line x1="2569" y1="1655" x2="2678" y2="1655"/>
<text class="h" x="2623" y="1621">ilLogger</text>
<text x="2577" y="1669">+ __construct()<tspan x="2577" dy="14.7">+ isHandling()</tspan><tspan x="2577" dy="14.7">+ log()</tspan><tspan x="2577" dy="14.7">+ dump()</tspan><tspan x="2577" dy="14.7">+ debug()</tspan><tspan x="2577" dy="14.7">+ info()</tspan><tspan x="2577" dy="14.7">+ notice()</tspan><tspan x="2577" dy="14.7">+ warning()</tspan><tspan x="2577" dy="14.7">+ error()</tspan><tspan x="2577" dy="14.7">+ critical()</tspan><tspan x="2577" dy="14.7">and 7 more...</tspan></text></g>

<g id="n_loggerfactory" class="n"><rect x="2969" y="1604" width="166" height="222"/><line x1="2969" y1="1630" x2="3135" y2="1630"/><line x1="2969" y1="1655" x2="3135" y2="1655"/>
<text class="h" x="3052" y="1621">ilLoggerFactory</text>
<text x="2977" y="1669">+ isLoggingEnabled()<tspan x="2977" dy="14.7">+ initUser()</tspan><tspan x="2977" dy="14.7">+ getSettings()</tspan><tspan x="2977" dy="14.7">+ getComponentLogger()</tspan><tspan x="2977" dy="14.7">+ getInstance()</tspan><tspan x="2977" dy="14.7">+ newInstance()</tspan><tspan x="2977" dy="14.7">+ getLogger()</tspan><tspan x="2977" dy="14.7">+ getRootLogger()</tspan><tspan x="2977" dy="14.7"># __construct()</tspan><tspan x="2977" dy="14.7"># isConsoleAvailable()</tspan><tspan x="2977" dy="14.7"># getLoggers()</tspan></text></g>

<g id="n_uiservices" class="n"><rect x="3264" y="1889" width="142" height="119"/><line x1="3264" y1="1914" x2="3406" y2="1914"/><line x1="3264" y1="1939" x2="3406" y2="1939"/>
<text class="h" x="3335" y="1906">ILIAS\DI\UIServices</text>
<text x="3272" y="1953">+ __construct()<tspan x="3272" dy="14.7">+ factory()</tspan><tspan x="3272" dy="14.7">+ renderer()</tspan><tspan x="3272" dy="14.7">+ mainTemplate()</tspan></text></g>

<g id="n_illanguage" class="n"><rect x="2190" y="2034" width="178" height="325"/><line x1="2190" y1="2060" x2="2368" y2="2060"/><line x1="2190" y1="2085" x2="2368" y2="2085"/>
<text class="h" x="2279" y="2051">ilLanguage</text>
<text x="2198" y="2099">+ __construct()<tspan x="2198" dy="14.7">+ getLangKey()</tspan><tspan x="2198" dy="14.7">+ getDefaultLanguage()</tspan><tspan x="2198" dy="14.7">+ getTextDirection()</tspan><tspan x="2198" dy="14.7">+ getContentLanguage()</tspan><tspan x="2198" dy="14.7">+ txtlng()</tspan><tspan x="2198" dy="14.7">+ txt()</tspan><tspan x="2198" dy="14.7">+ exists()</tspan><tspan x="2198" dy="14.7">+ loadLanguageModule()</tspan><tspan x="2198" dy="14.7">+ getInstalledLanguages()</tspan><tspan x="2198" dy="14.7">and 7 more...</tspan><tspan x="2198" dy="14.7">+ _getInstalledLanguages()</tspan><tspan x="2198" dy="14.7">+ _lookupEntry()</tspan><tspan x="2198" dy="14.7">+ lookupId()</tspan><tspan x="2198" dy="14.7">+ getFallbackInstance()</tspan><tspan x="2198" dy="14.7">+ getGlobalInstance()</tspan><tspan x="2198" dy="14.7"># logUsage()</tspan><tspan x="2198" dy="14.7"># isUsageLogEnabled()</tspan></text></g>

<g id="n_htmlitx" class="n"><rect x="1178" y="2071" width="204" height="252"/><line x1="1178" y1="2095" x2="1382" y2="2095"/><line x1="1178" y1="2121" x2="1382" y2="2121"/>
<text class="h" x="1280" y="2088">HTML_Template_ITX</text>
<text x="1186" y="2135">+ __construct()<tspan x="1186" dy="14.7">+ replaceBlock()</tspan><tspan x="1186" dy="14.7">+ addBlock()</tspan><tspan x="1186" dy="14.7">+ addBlockfile()</tspan><tspan x="1186" dy="14.7">+ removeBlockData()</tspan><tspan x="1186" dy="14.7">+ blockExists()</tspan><tspan x="1186" dy="14.7">+ buildFunctionlist()</tspan><tspan x="1186" dy="14.7">+ getValue()</tspan><tspan x="1186" dy="14.7">+ deleteFromBlockvariablelist()</tspan><tspan x="1186" dy="14.7">+ updateBlockvariablelist()</tspan><tspan x="1186" dy="14.7">+ findPlaceholderBlocks()</tspan><tspan x="1186" dy="14.7">+ warning()</tspan><tspan x="1186" dy="14.7"># init()</tspan></text></g>

<g id="n_iltemplate" class="n"><rect x="1389" y="2423" width="163" height="312"/><line x1="1389" y1="2448" x2="1552" y2="2448"/><line x1="1389" y1="2475" x2="1552" y2="2475"/>
<text class="h" x="1470" y="2440">ilTemplate</text>
<text x="1397" y="2489">+ __construct()<tspan x="1397" dy="14.7">+ blockExists()</tspan><tspan x="1397" dy="14.7">+ get()</tspan><tspan x="1397" dy="14.7">+ getUnmodified()</tspan><tspan x="1397" dy="14.7">+ setCurrentBlock()</tspan><tspan x="1397" dy="14.7">+ touchBlock()</tspan><tspan x="1397" dy="14.7">+ parseCurrentBlock()</tspan><tspan x="1397" dy="14.7">+ addBlockFile()</tspan><tspan x="1397" dy="14.7">+ loadTemplatefile()</tspan><tspan x="1397" dy="14.7">+ getTemplateIdentifier()</tspan><tspan x="1397" dy="14.7">+ variableExists()</tspan><tspan x="1397" dy="14.7"># init()</tspan><tspan x="1397" dy="14.7"># getCurrentSkin()</tspan><tspan x="1397" dy="14.7"># getCurrentStyle()</tspan><tspan x="1397" dy="14.7"># fileExistsInSkin()</tspan><tspan x="1397" dy="14.7"># getTemplatePath()</tspan><tspan x="1397" dy="14.7">- fillVars()</tspan></text></g>

<g id="n_toolbar" class="n"><rect x="1960" y="2460" width="235" height="237"/><line x1="1960" y1="2485" x2="2195" y2="2485"/><line x1="1960" y1="2512" x2="2195" y2="2512"/>
<text class="h" x="2077" y="2477">ilToolbarGUI</text>
<text x="1968" y="2526">+ setFormAction()<tspan x="1968" dy="14.7">+ getFormAction()</tspan><tspan x="1968" dy="14.7">+ setLeadingImage()</tspan><tspan x="1968" dy="14.7">+ setHidden()</tspan><tspan x="1968" dy="14.7">+ getHidden()</tspan><tspan x="1968" dy="14.7">+ setId()</tspan><tspan x="1968" dy="14.7">+ getId()</tspan><tspan x="1968" dy="14.7">+ setPreventDoubleSubmission()</tspan><tspan x="1968" dy="14.7">+ getPreventDoubleSubmission()</tspan><tspan x="1968" dy="14.7">+ addButton()</tspan><tspan x="1968" dy="14.7">and 20 more...</tspan><tspan x="1968" dy="14.7"># applyAutoStickyToSingleElement()</tspan></text></g>

<g id="n_pagecontent" class="n"><rect x="1510" y="2812" width="214" height="487"/><line x1="1510" y1="2852" x2="1724" y2="2852"/><line x1="1510" y1="2907" x2="1724" y2="2907"/>
<text x="1518" y="2828">ILIAS\components\UICore<tspan x="1518" dy="14.7">\MetaTemplate\PageContentGUI</tspan></text>
<text x="1518" y="2866"># $title_desc<tspan x="1518" dy="14.7"># $filter</tspan><tspan x="1518" dy="14.7"># $banner_image_src</tspan></text>
<text x="1518" y="2921">+ __construct()<tspan x="1518" dy="14.7">+ addBlockFile()</tspan><tspan x="1518" dy="14.7">+ blockExists()</tspan><tspan x="1518" dy="14.7">+ removeBlockData()</tspan><tspan x="1518" dy="14.7">+ setVariable()</tspan><tspan x="1518" dy="14.7">+ setCurrentBlock()</tspan><tspan x="1518" dy="14.7">+ touchBlock()</tspan><tspan x="1518" dy="14.7">+ parseCurrentBlock()</tspan><tspan x="1518" dy="14.7">+ setPageFormAction()</tspan><tspan x="1518" dy="14.7">+ setMainContent()</tspan><tspan x="1518" dy="14.7">and 19 more...</tspan><tspan x="1518" dy="14.7"># fillFilter()</tspan><tspan x="1518" dy="14.7"># fillMessage()</tspan><tspan x="1518" dy="14.7"># getMessageTextForType()</tspan><tspan x="1518" dy="14.7"># getTabsHTML()</tspan><tspan x="1518" dy="14.7"># initHelp()</tspan><tspan x="1518" dy="14.7"># fillHeader()</tspan><tspan x="1518" dy="14.7"># setCenterColumnClass()</tspan><tspan x="1518" dy="14.7"># fillMainContent()</tspan><tspan x="1518" dy="14.7"># fillLeftContent()</tspan><tspan x="1518" dy="14.7"># fillRightContent()</tspan><tspan x="1518" dy="14.7"># fillAdminPanel()</tspan><tspan x="1518" dy="14.7"># fillPageFormAction()</tspan><tspan x="1518" dy="14.7"># fillToolbar()</tspan><tspan x="1518" dy="14.7"># fillTabs()</tspan><tspan x="1518" dy="14.7">- getMessageBox()</tspan></text></g>

<g id="n_globalpagetemplate" class="n"><rect x="3301" y="3362" width="170" height="267" style="fill:#bfbfbf"/><line x1="3301" y1="3385" x2="3471" y2="3385"/><line x1="3301" y1="3413" x2="3471" y2="3413"/>
<text class="h" x="3386" y="3378">ilGlobalPageTemplate</text>
<text x="3309" y="3427">+ __construct()<tspan x="3309" dy="14.7">+ printToStdout()</tspan><tspan x="3309" dy="14.7">+ printToString()</tspan><tspan x="3309" dy="14.7">+ addJavaScript()</tspan><tspan x="3309" dy="14.7">+ addCss()</tspan><tspan x="3309" dy="14.7">+ addOnLoadCode()</tspan><tspan x="3309" dy="14.7">+ addInlineCss()</tspan><tspan x="3309" dy="14.7">+ setContent()</tspan><tspan x="3309" dy="14.7">+ setLeftContent()</tspan><tspan x="3309" dy="14.7">+ setRightContent()</tspan><tspan x="3309" dy="14.7">and 35 more...</tspan><tspan x="3309" dy="14.7"># prepareOutputHeaders()</tspan><tspan x="3309" dy="14.7"># prepareBasicJS()</tspan><tspan x="3309" dy="14.7"># prepareBasicCSS()</tspan></text></g>
</svg>
